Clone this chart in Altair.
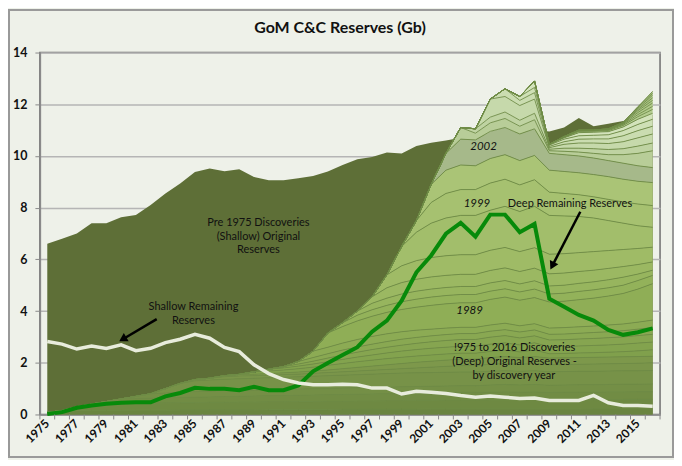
import altair as alt
import pandas as pd

years = list(range(1975, 2017))

# top of all stacked discovery layers (1975-2016 discoveries, cumulative)
total_top = [0.08, 0.15, 0.3, 0.4, 0.5, 0.6, 0.7, 0.8, 1.0, 1.2,
             1.35, 1.4, 1.5, 1.55, 1.65, 1.75, 1.85, 2.05, 2.45, 3.15,
             3.55, 4.0, 4.55, 5.4, 6.5, 7.5, 8.9, 10.1, 11.1, 11.05,
             12.2, 12.6, 12.3, 12.9, 10.45, 10.75, 11.0, 11.0, 11.05, 11.3,
             11.9, 12.5]

# Pre 1975 discoveries (shallow) original reserves - dark background area
pre1975_top = [6.6, 6.8, 7.0, 7.4, 7.4, 7.63, 7.72, 8.1, 8.55, 8.93,
               9.38, 9.51, 9.41, 9.49, 9.19, 9.06, 9.06, 9.14, 9.22, 9.4,
               9.65, 9.87, 9.96, 10.13, 10.09, 10.38, 10.51, 10.6, 10.7, 10.78,
               10.85, 10.9, 10.95, 11.0, 10.95, 11.1, 11.47, 11.15, 11.25, 11.35,
               11.45, 11.6]

deep_remaining = [0.02, 0.09, 0.26, 0.35, 0.41, 0.45, 0.47, 0.47, 0.7, 0.83,
                  1.03, 0.99, 0.99, 0.94, 1.07, 0.94, 0.94, 1.12, 1.67, 1.99,
                  2.3, 2.6, 3.2, 3.63, 4.4, 5.5, 6.15, 6.99, 7.41, 6.88,
                  7.73, 7.73, 7.05, 7.37, 4.48, 4.17, 3.85, 3.63, 3.27, 3.08,
                  3.18, 3.33]

shallow_remaining = [2.82, 2.72, 2.53, 2.65, 2.55, 2.69, 2.47, 2.56, 2.78, 2.91,
                     3.1, 2.95, 2.59, 2.43, 1.92, 1.58, 1.35, 1.22, 1.15, 1.15,
                     1.17, 1.15, 1.02, 1.02, 0.79, 0.9, 0.86, 0.81, 0.73, 0.67,
                     0.71, 0.67, 0.62, 0.64, 0.54, 0.54, 0.54, 0.74, 0.45, 0.35,
                     0.35, 0.32]

# cumulative top of discoveries up to a given discovery year, from that year to 2016
b1976 = [0.15, 0.15, 0.16, 0.16, 0.16, 0.17, 0.17, 0.17, 0.18, 0.18,
         0.18, 0.18, 0.18, 0.18, 0.19, 0.19, 0.19, 0.19, 0.19, 0.2,
         0.2, 0.2, 0.2, 0.2, 0.2, 0.21, 0.21, 0.21, 0.21, 0.21,
         0.21, 0.21, 0.21, 0.21, 0.21, 0.21, 0.22, 0.22, 0.22, 0.22, 0.22]
b1978 = [0.4, 0.41, 0.42, 0.43, 0.44, 0.45, 0.46, 0.46, 0.47, 0.47,
         0.48, 0.48, 0.49, 0.49, 0.5, 0.5, 0.51, 0.51, 0.52, 0.52,
         0.53, 0.53, 0.54, 0.54, 0.55, 0.55, 0.55, 0.56, 0.56, 0.56,
         0.57, 0.56, 0.56, 0.57, 0.57, 0.57, 0.58, 0.58, 0.58]
b1980 = [0.6, 0.62, 0.63, 0.65, 0.66, 0.67, 0.68, 0.69, 0.7, 0.71,
         0.72, 0.73, 0.74, 0.75, 0.76, 0.77, 0.78, 0.79, 0.8, 0.81,
         0.82, 0.83, 0.84, 0.85, 0.85, 0.86, 0.87, 0.86, 0.87, 0.85,
         0.86, 0.86, 0.86, 0.87, 0.87, 0.88, 0.88]
b1982 = [0.8, 0.83, 0.86, 0.88, 0.9, 0.92, 0.93, 0.94, 0.95, 0.97,
         0.98, 0.99, 1.0, 1.02, 1.03, 1.04, 1.05, 1.07, 1.08, 1.09,
         1.1, 1.11, 1.11, 1.14, 1.16, 1.14, 1.16, 1.13, 1.14, 1.15,
         1.15, 1.16, 1.17, 1.17, 1.18]
b1984 = [1.2, 1.3, 1.33, 1.36, 1.38, 1.4, 1.42, 1.44, 1.46, 1.48,
         1.5, 1.52, 1.54, 1.56, 1.58, 1.6, 1.61, 1.62, 1.63, 1.64,
         1.64, 1.67, 1.69, 1.67, 1.69, 1.65, 1.66, 1.67, 1.67, 1.68,
         1.69, 1.69, 1.7]
b1986 = [1.4, 1.46, 1.49, 1.5, 1.52, 1.54, 1.56, 1.59, 1.62, 1.65,
         1.68, 1.71, 1.74, 1.77, 1.8, 1.83, 1.86, 1.89, 1.89, 1.94,
         1.97, 1.94, 1.97, 1.92, 1.93, 1.94, 1.95, 1.96, 1.97, 1.98,
         2.0]
b1988 = [1.55, 1.56, 1.58, 1.61, 1.64, 1.68, 1.72, 1.77, 1.82, 1.87,
         1.92, 1.97, 2.02, 2.06, 2.1, 2.14, 2.14, 2.2, 2.24, 2.2,
         2.24, 2.18, 2.19, 2.2, 2.21, 2.22, 2.23, 2.24, 2.25]
b1989 = [1.65, 1.68, 1.72, 1.77, 1.83, 1.9, 1.97, 2.04, 2.1, 2.16,
         2.21, 2.26, 2.3, 2.34, 2.37, 2.37, 2.44, 2.49, 2.42, 2.49,
         2.35, 2.36, 2.38, 2.39, 2.41, 2.43, 2.46, 2.5]
b1990 = [1.75, 1.8, 1.87, 1.95, 2.04, 2.13, 2.22, 2.3, 2.38, 2.45,
         2.51, 2.56, 2.6, 2.64, 2.64, 2.72, 2.77, 2.69, 2.77,
         2.62, 2.63, 2.65, 2.67, 2.69, 2.72, 2.76, 2.8]
b1991 = [1.85, 1.95, 2.06, 2.18, 2.3, 2.41, 2.51, 2.6, 2.68, 2.75,
         2.81, 2.86, 2.9, 2.9, 2.99, 3.05, 2.96, 3.04,
         2.88, 2.89, 2.92, 2.94, 2.97, 3.0, 3.05, 3.1]
b1992 = [2.05, 2.2, 2.35, 2.49, 2.61, 2.72, 2.82, 2.91, 2.98, 3.04,
         3.09, 3.13, 3.13, 3.22, 3.28, 3.19, 3.27,
         3.1, 3.11, 3.14, 3.17, 3.2, 3.24, 3.3, 3.36]
b1993 = [2.45, 2.6, 2.76, 2.9, 3.02, 3.12, 3.2, 3.26, 3.3, 3.34,
         3.37, 3.37, 3.46, 3.53, 3.43, 3.51,
         3.34, 3.36, 3.39, 3.42, 3.46, 3.5, 3.57, 3.65]
b1994 = [3.15, 3.4, 3.62, 3.8, 3.95, 4.06, 4.15, 4.22, 4.28, 4.32,
         4.32, 4.45, 4.54, 4.42, 4.52,
         4.35, 4.38, 4.44, 4.5, 4.58, 4.68, 4.85, 5.06]
b1995 = [3.55, 3.84, 4.05, 4.22, 4.36, 4.46, 4.54, 4.6, 4.64, 4.64,
         4.77, 4.86, 4.74, 4.85,
         4.66, 4.69, 4.76, 4.82, 4.9, 5.0, 5.18, 5.38]
b1996 = [4.0, 4.3, 4.5, 4.66, 4.77, 4.85, 4.91, 4.95, 4.95, 5.09,
         5.18, 5.05, 5.17,
         4.97, 5.0, 5.07, 5.13, 5.21, 5.31, 5.43, 5.58]
b1997 = [4.55, 4.9, 5.1, 5.23, 5.32, 5.38, 5.42, 5.42, 5.57, 5.67,
         5.53, 5.66,
         5.44, 5.47, 5.53, 5.58, 5.65, 5.72, 5.8, 5.9]
b1998 = [5.4, 5.75, 5.95, 6.07, 6.14, 6.18, 6.18, 6.35, 6.46, 6.3,
         6.45, 6.2, 6.22, 6.26, 6.3, 6.34, 6.38, 6.42, 6.47]
b1999 = [6.5, 7.05, 7.4, 7.6, 7.7, 7.7, 7.9, 8.05, 7.85, 8.05,
         7.7, 7.68, 7.66, 7.6, 7.5, 7.4, 7.3, 7.24]
b2000 = [7.5, 8.2, 8.55, 8.7, 8.7, 8.95, 9.1, 8.88, 9.08, 8.6,
         8.55, 8.5, 8.42, 8.32, 8.22, 8.14, 8.08]
b2001 = [8.9, 9.45, 9.65, 9.62, 9.9, 10.05, 9.82, 10.02, 9.45, 9.4,
         9.35, 9.28, 9.2, 9.1, 9.02, 8.97]
b2002 = [10.1, 10.65, 10.62, 10.95, 11.1, 10.85, 11.05, 10.1, 10.05, 10.0,
         9.92, 9.82, 9.72, 9.62, 9.55]
b2003 = [11.1, 10.88, 11.28, 11.45, 11.15, 11.4, 10.2, 10.18, 10.15, 10.1,
         10.05, 10.05, 10.1, 10.2]
b2004 = [11.05, 11.5, 11.7, 11.38, 11.65, 10.26, 10.3, 10.3, 10.28, 10.25,
         10.28, 10.38, 10.5]
b2005 = [12.2, 12.3, 11.95, 12.2, 10.32, 10.45, 10.5, 10.5, 10.48, 10.55,
         10.7, 10.85]
b2006 = [12.6, 12.15, 12.45, 10.37, 10.55, 10.65, 10.66, 10.66, 10.78, 10.98, 11.15]
b2007 = [12.3, 12.65, 10.42, 10.65, 10.78, 10.8, 10.82, 10.98, 11.22, 11.42]
b2008 = [12.9, 10.45, 10.7, 10.9, 10.92, 10.94, 11.12, 11.42, 11.65]
b2009 = [10.45, 10.72, 10.95, 10.96, 10.98, 11.18, 11.52, 11.8]
b2010 = [10.75, 10.98, 10.98, 11.01, 11.22, 11.6, 11.92]
b2011 = [11.0, 11.0, 11.03, 11.25, 11.68, 12.05]
b2012 = [11.0, 11.04, 11.27, 11.75, 12.15]
b2013 = [11.05, 11.28, 11.8, 12.25]
b2014 = [11.3, 11.85, 12.35]
b2015 = [11.9, 12.42]
b2016 = [12.5]

layer_years = [1976, 1978, 1980, 1982, 1984, 1986, 1988, 1989, 1990, 1991,
               1992, 1993, 1994, 1995, 1996, 1997, 1998, 1999, 2000, 2001,
               2002, 2003, 2004, 2005, 2006, 2007, 2008, 2009, 2010, 2011,
               2012, 2013, 2014, 2015, 2016]
bounds = [b1976, b1978, b1980, b1982, b1984, b1986, b1988, b1989, b1990, b1991,
          b1992, b1993, b1994, b1995, b1996, b1997, b1998, b1999, b2000, b2001,
          b2002, b2003, b2004, b2005, b2006, b2007, b2008, b2009, b2010, b2011,
          b2012, b2013, b2014, b2015, b2016]
layer_colors = ["#6a8540", "#6e8942", "#718c44", "#748f46", "#779248", "#7a954a", "#7d984b",
                "#80a04c", "#83a34e", "#86a550", "#89a852", "#8cab54", "#8fae56",
                "#93b25a", "#97b55e", "#9bb862", "#9fbb66", "#a2be6b", "#a6c170", "#aac476",
                "#a6b98a", "#b8cd98", "#bfd3a2", "#c6d9ab", "#cadcb0", "#cfe0b6", "#d3e3bb",
                "#b4cc90", "#b2cb8c", "#b0c98a", "#aec888", "#acc686", "#aac484", "#a8c382", "#a6c180"]

tick_label_years = list(range(1975, 2016, 2))

for y, v in zip(layer_years, bounds):
    assert len(v) == 2016 - y + 1, (y, len(v))

rows = []
prev = [0.0] * len(years)
for k, (ly, vals) in enumerate(zip(layer_years, bounds)):
    full = [total_top[i] if years[i] < ly else vals[years[i] - ly] for i in range(len(years))]
    for i, yr in enumerate(years):
        rows.append({"year": yr, "lo": prev[i], "hi": full[i], "layer": str(ly)})
    prev = full
layers_df = pd.DataFrame(rows)

base_df = pd.DataFrame({"year": years, "pre": pre1975_top, "deep": deep_remaining,
                        "shallow": shallow_remaining})

X = alt.X("year:Q", scale=alt.Scale(domain=[1974.5, 2016.5], nice=False, zero=False),
          axis=alt.Axis(values=tick_label_years, labels=False, ticks=False, grid=False,
                        title=None, domainColor="#8a8a8a", domainWidth=1.5))

dark = alt.Chart(base_df).mark_area(color="#5e6f37", opacity=1).encode(
    x=X, y=alt.Y("pre:Q", scale=alt.Scale(domain=[0, 14], nice=False),
                 axis=alt.Axis(values=list(range(0, 15, 2)), title=None, grid=True,
                               gridColor="#b5b5b5", gridWidth=1.5, tickSize=5,
                               tickColor="#8a8a8a", domainColor="#8a8a8a", domainWidth=1.5,
                               labelFontSize=12.5, labelFontWeight="bold", labelColor="#111",
                               labelPadding=8, labelFont="Lato")))

areas = alt.Chart(layers_df).mark_area(opacity=1).encode(
    x="year:Q", y="lo:Q", y2="hi:Q",
    color=alt.Color("layer:N", scale=alt.Scale(domain=[str(v) for v in layer_years],
                                                range=layer_colors), legend=None))

edges = alt.Chart(layers_df).mark_line(strokeWidth=0.9, color="#6f8c46").encode(
    x="year:Q", y="hi:Q", detail="layer:N")

deep_line = alt.Chart(base_df).mark_line(color="#078a0a", strokeWidth=4).encode(
    x="year:Q", y="deep:Q")
shallow_line = alt.Chart(base_df).mark_line(color="#e8ecdc", strokeWidth=3.5).encode(
    x="year:Q", y="shallow:Q")

ticks_df = pd.DataFrame({"pos": [y + 0.5 for y in range(1974, 2017)]})
xticks = alt.Chart(ticks_df).mark_rule(color="#8a8a8a", strokeWidth=1).encode(
    x="pos:Q", y=alt.value(363), y2=alt.value(368))

xlab_df = pd.DataFrame({"year": tick_label_years, "t": [str(v) for v in tick_label_years]})
xlabels = alt.Chart(xlab_df).mark_text(font="Lato", fontSize=12, fontWeight="bold",
                                       color="#111", angle=315, align="right",
                                       baseline="middle").encode(
    x="year:Q", y=alt.value(370), text="t:N")

note_text = ["Pre 1975 Discoveries", "(Shallow) Original", "Reserves",
             "Shallow Remaining", "Reserves", "Deep Remaining Reserves",
             "!975 to 2016 Discoveries", "(Deep) Original Reserves -", "by discovery year"]
note_x = [1989.3, 1989.3, 1989.3, 1984.9, 1984.9, 2010.4, 2006.65, 2006.65, 2006.6]
note_y = [7.39, 6.87, 6.35, 4.16, 3.63, 8.16, 2.57, 2.03, 1.49]
notes = alt.Chart(pd.DataFrame({"x": note_x, "y": note_y, "t": note_text})).mark_text(
    font="Lato", fontSize=11, color="#111", baseline="middle", align="center").encode(
    x="x:Q", y="y:Q", text="t:N")

year_text = ["2002", "1999", "1989"]
year_x = [2004.55, 2004.1, 2003.6]
year_y = [10.34, 8.14, 4.0]
year_notes = alt.Chart(pd.DataFrame({"x": year_x, "y": year_y, "t": year_text})).mark_text(
    font="Lato", fontSize=11.5, fontStyle="italic", color="#111", baseline="middle",
    align="center").encode(x="x:Q", y="y:Q", text="t:N")

arrow_x = [1982.41, 2011.1]
arrow_y = [3.69, 7.84]
arrow_x2 = [1980.11, 2009.2]
arrow_y2 = [2.91, 5.75]
arrow_angle = [239, 207]
arrow_df = pd.DataFrame({"x": arrow_x, "y": arrow_y, "x2": arrow_x2, "y2": arrow_y2,
                         "ang": arrow_angle})
shafts = alt.Chart(arrow_df).mark_rule(color="#000", strokeWidth=2.5).encode(
    x="x:Q", y="y:Q", x2="x2:Q", y2="y2:Q")
heads = alt.Chart(arrow_df).mark_point(shape="triangle-up", filled=True, color="#000",
                                        size=90, opacity=1).encode(
    x="x2:Q", y="y2:Q", angle=alt.Angle("ang:Q", scale=None))

frame = alt.Chart(ticks_df).mark_rect(fill=None, stroke="#9a9a9a", strokeWidth=1.5).encode(
    x=alt.value(-31), x2=alt.value(635), y=alt.value(-43), y2=alt.value(406))

title_df = pd.DataFrame({"t": ["GoM C&C Reserves (Gb)"]})
title = alt.Chart(title_df).mark_text(font="Lato", fontSize=16, fontWeight="bold",
                                      color="#111", align="center", baseline="middle").encode(
    x=alt.value(301), y=alt.value(-25), text="t:N")

chart = alt.layer(dark, areas, edges, deep_line, shallow_line, xticks, xlabels, notes,
                  year_notes, shafts, heads, frame, title).properties(
    width=622, height=363,
    autosize=alt.AutoSizeParams(type="none"),
    padding={"left": 32, "top": 44, "right": 14, "bottom": 45},
    background="#eef1e9",
).configure_view(stroke="#6e6e6e", strokeWidth=1.5)

chart.save("out.html", embed_options={"renderer": "svg", "actions": False})
